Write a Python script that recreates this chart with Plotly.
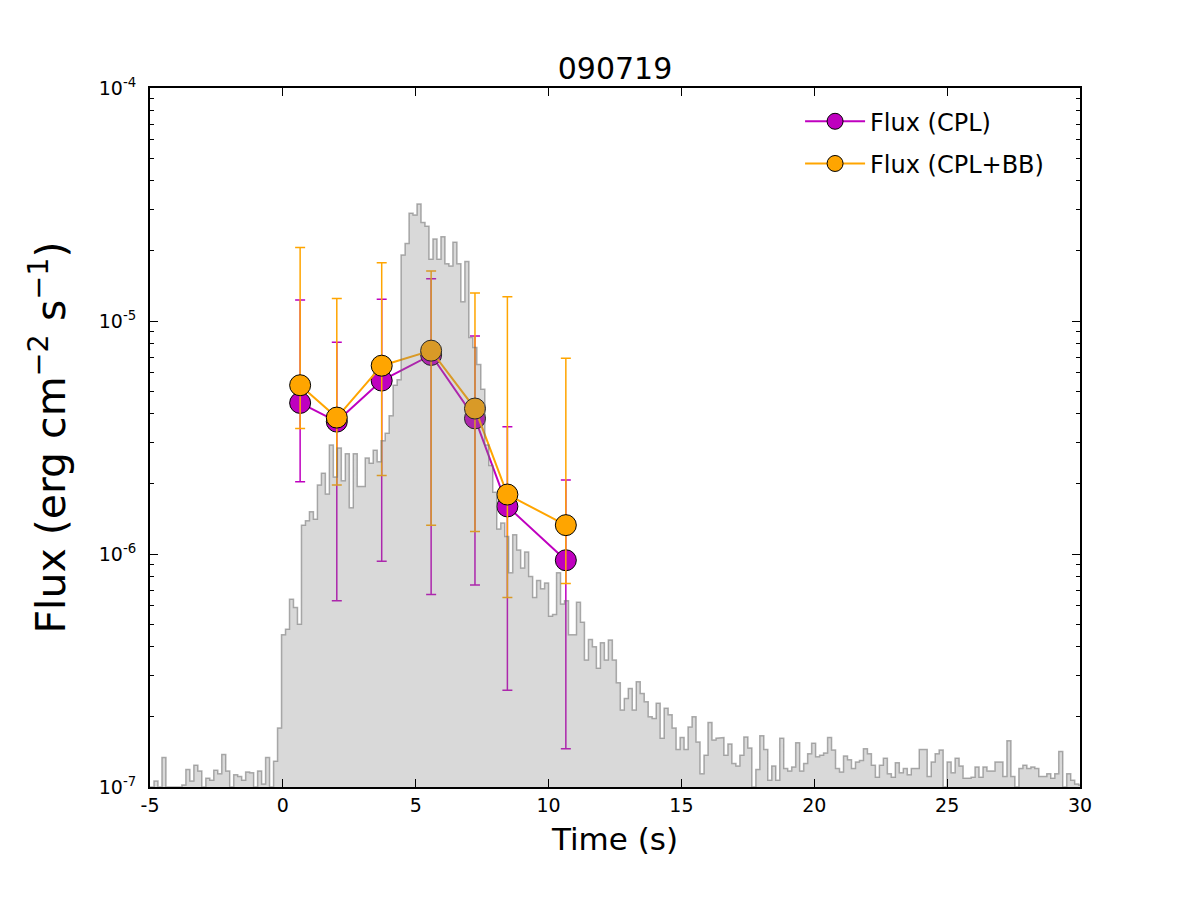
import numpy as np
import plotly.graph_objects as go

# ---------------- data ----------------
title_text = "090719"

time_s = [0.65, 2.03, 3.72, 5.58, 7.23, 8.45, 10.65]

flux_cpl = [4.45e-6, 3.70e-6, 5.55e-6, 7.15e-6, 3.82e-6, 1.60e-6, 9.4e-7]
flux_cpl_hi = [1.23e-5, 8.1e-6, 1.24e-5, 1.52e-5, 8.63e-6, 3.52e-6, 2.08e-6]
flux_cpl_lo = [2.04e-6, 6.3e-7, 9.3e-7, 6.7e-7, 7.36e-7, 2.6e-7, 1.46e-7]

flux_bb = [5.3e-6, 3.85e-6, 6.43e-6, 7.46e-6, 4.21e-6, 1.80e-6, 1.33e-6]
flux_bb_hi = [2.07e-5, 1.25e-5, 1.78e-5, 1.64e-5, 1.32e-5, 1.27e-5, 6.92e-6]
flux_bb_lo = [3.46e-6, 1.98e-6, 2.17e-6, 1.33e-6, 1.25e-6, 6.5e-7, 7.48e-7]

# light curve (scaled count rate, units of 1e-7), bins of 0.15 s from -5 s
hist_start = -5.0
hist_width = 0.15
hist_unit = 1e-7
hist_rate = [
    0, 1.06, 0, 1.34, 0, 0, 0, 0, 1.02, 1.19,
    1.06, 1.24, 1.17, 0, 1.09, 1.07, 1.18, 1.14, 1.38, 1.17,
    0, 1.13, 1.11, 1.07, 1.16, 1.15, 0, 1.17, 1.03, 1.34,
    0, 1.29, 1.79, 4.5, 4.75, 6.4, 5.9, 5.0, 13.3, 13.9,
    15.2, 14.1, 19.8, 22.2, 18.1, 29.4, 21.4, 28.5, 20.6, 26.9,
    15.8, 26.9, 19.5, 19.5, 25.8, 24.5, 27.9, 24.9, 30.6, 33.0,
    39.2, 53.0, 56.0, 192, 215, 290, 285, 318, 265, 255,
    184, 225, 184, 230, 176, 172, 218, 176, 121, 180,
    85, 77, 65, 51, 29.4, 24.0, 18.4, 12.8, 13.6, 11.9,
    8.3, 12.1, 10.4, 8.7, 10.2, 8.0, 6.5, 7.7, 7.1, 7.5,
    5.4, 5.5, 8.3, 6.1, 6.3, 4.5, 4.5, 6.2, 5.1, 3.51,
    4.3, 4.0, 3.23, 4.16, 3.51, 4.27, 3.51, 2.80, 2.14, 2.40,
    2.65, 2.14, 2.83, 2.52, 2.32, 2.0, 1.97, 2.29, 1.62, 2.18,
    2.04, 1.79, 1.45, 1.63, 1.45, 1.81, 2.0, 1.56, 1.14, 1.37,
    1.89, 1.59, 1.62, 1.63, 1.37, 1.53, 1.26, 1.23, 1.37, 1.64,
    1.47, 0, 1.19, 1.66, 1.45, 1.07, 1.23, 1.07, 1.62, 1.20,
    1.17, 1.22, 1.55, 1.17, 1.26, 1.39, 1.54, 1.35, 1.37, 1.40,
    1.63, 1.44, 1.20, 1.16, 1.36, 1.31, 1.20, 1.28, 1.30, 1.46,
    1.39, 1.24, 1.10, 1.24, 1.33, 1.14, 1.10, 1.27, 1.15, 1.20,
    1.13, 1.20, 1.20, 1.45, 1.45, 1.11, 1.28, 1.39, 1.44, 0,
    1.28, 1.15, 1.33, 1.23, 1.09, 1.09, 1.10, 1.22, 1.10, 1.22,
    1.17, 1.17, 1.28, 1.28, 1.11, 1.58, 1.11, 0, 1.20, 1.24,
    1.20, 1.22, 1.20, 1.11, 1.11, 1.14, 1.09, 1.14, 1.42, 0,
    1.14, 1.07, 1.03, 1.02,
]

x_tick_vals = [-5, 0, 5, 10, 15, 20, 25, 30]
x_tick_text = ["-5", "0", "5", "10", "15", "20", "25", "30"]
y_tick_vals = [1e-7, 1e-6, 1e-5, 1e-4]
y_tick_text = ["10<sup>-7</sup>", "10<sup>-6</sup>", "10<sup>-5</sup>", "10<sup>-4</sup>"]

legend_cpl = "Flux (CPL)"
legend_bb = "Flux (CPL+BB)"
x_label = "Time (s)"
y_label = "Flux (erg cm<sup>\u22122</sup> s<sup>\u22121</sup>)"

# ---------------- styling ----------------
FONT = "DejaVu Sans"
MAGENTA = "#bf00bf"
ORANGE = "#ffa500"
y_floor = y_tick_vals[0]  # bottom of the log axis


def err(v, hi, lo):
    v = np.array(v); hi = np.array(hi); lo = np.array(lo)
    return (hi - v).tolist(), (v - lo).tolist()


fig = go.Figure()

cpl_up, cpl_dn = err(flux_cpl, flux_cpl_hi, flux_cpl_lo)
bb_up, bb_dn = err(flux_bb, flux_bb_hi, flux_bb_lo)

fig.add_trace(go.Scatter(
    x=time_s, y=flux_cpl, mode="lines+markers", name=legend_cpl,
    legendgroup="a",
    line=dict(color=MAGENTA, width=2),
    marker=dict(color=MAGENTA, size=21, line=dict(color="black", width=1)),
    error_y=dict(type="data", symmetric=False, array=cpl_up, arrayminus=cpl_dn,
                 color=MAGENTA, thickness=1.5, width=5),
))
fig.add_trace(go.Scatter(
    x=time_s, y=flux_bb, mode="lines+markers", name=legend_bb,
    legendgroup="b",
    line=dict(color=ORANGE, width=2),
    marker=dict(color=ORANGE, size=21, line=dict(color="black", width=1)),
    error_y=dict(type="data", symmetric=False, array=bb_up, arrayminus=bb_dn,
                 color=ORANGE, thickness=1.5, width=5),
))

# histogram drawn on top as a translucent step polygon
rates = np.array(hist_rate) * hist_unit
edges = hist_start + hist_width * np.arange(len(rates) + 1)
vals = np.maximum(rates, y_floor)
hx = [edges[0]]
hy = [y_floor]
for i, v in enumerate(vals):
    hx += [edges[i], edges[i + 1]]
    hy += [v, v]
hx.append(edges[-1])
hy.append(y_floor)

fig.add_trace(go.Scatter(
    x=hx, y=hy, mode="lines", fill="toself",
    fillcolor="rgba(128,128,128,0.3)",
    line=dict(color="rgba(110,110,110,0.55)", width=1.5),
    showlegend=False, hoverinfo="skip",
))

fig.update_layout(
    width=1200, height=900,
    paper_bgcolor="white", plot_bgcolor="white",
    margin=dict(l=150, r=120, t=88, b=113),
    font=dict(family=FONT, color="black"),
    title=dict(text=title_text, x=0.5, xref="paper", xanchor="center",
               y=1 - 68 / 900, yref="container", yanchor="middle",
               font=dict(size=30, family=FONT, color="black")),
    showlegend=True,
    legend=dict(x=0.699, y=0.984, xanchor="left", yanchor="top",
                bgcolor="rgba(0,0,0,0)", borderwidth=0,
                font=dict(size=24, family=FONT, color="black"),
                itemwidth=60, itemsizing="trace",
                tracegroupgap=8, traceorder="grouped"),
)

fig.update_xaxes(
    range=[-5, 30], tickvals=x_tick_vals, ticktext=x_tick_text,
    ticks="inside", ticklen=8, tickwidth=1, tickcolor="black",
    showline=True, linewidth=2, linecolor="black", mirror="ticks",
    showgrid=False, zeroline=False,
    tickfont=dict(size=19, family=FONT, color="black"),
    title=dict(text=x_label, font=dict(size=31, family=FONT, color="black"), standoff=14),
)
fig.update_yaxes(
    type="log", range=[-7, -4], tickvals=y_tick_vals, ticktext=y_tick_text,
    ticks="inside", ticklen=8, tickwidth=1, tickcolor="black",
    showline=True, linewidth=2, linecolor="black", mirror="ticks",
    showgrid=False, zeroline=False,
    minor=dict(ticks="inside", ticklen=4, tickwidth=1, tickcolor="black",
               dtick="D1", showgrid=False),
    ticklabelstandoff=8,
    tickfont=dict(size=19, family=FONT, color="black"),
    title=dict(text=y_label, font=dict(size=41, family=FONT, color="black"), standoff=20),
)

fig.write_html("out.html")
